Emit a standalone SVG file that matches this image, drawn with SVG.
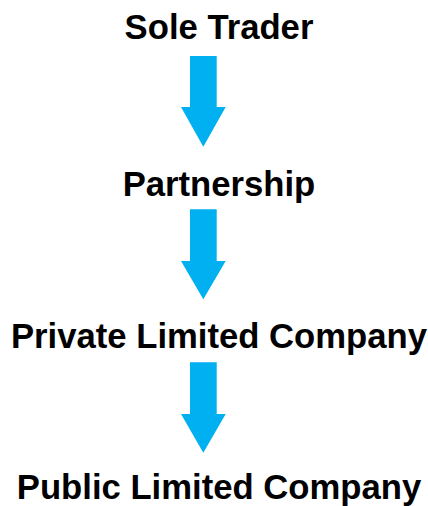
<svg xmlns="http://www.w3.org/2000/svg" width="428" height="506" viewBox="0 0 428 506">
  <style>
    .label { font-family: "Liberation Sans", Arial, sans-serif; font-weight: bold; font-size: 34.67px; fill: #000000; text-anchor: middle; }
    .arrow { fill: #00B0F0; stroke: none; }
  </style>
  <rect width="428" height="506" fill="#FFFFFF"/>
  <g id="connectors">
    <polygon class="arrow" points="190,56 216.7,56 216.7,107 225.7,107 203.3,146.7 181,107 190,107"/>
    <polygon class="arrow" points="190,209.3 216.7,209.3 216.7,261 225.7,261 203.3,299.3 181,261 190,261"/>
    <polygon class="arrow" points="190,362.3 216.7,362.3 216.7,414 225.7,414 203.3,452.7 181,414 190,414"/>
  </g>
  <g id="sole-trader">
    <text class="label" x="219" y="38.5">Sole Trader</text>
  </g>
  <g id="partnership">
    <text class="label" x="219" y="196">Partnership</text>
  </g>
  <g id="private-limited-company">
    <text class="label" x="219" y="348">Private Limited Company</text>
  </g>
  <g id="public-limited-company">
    <text class="label" x="219" y="498.5">Public Limited Company</text>
  </g>
</svg>
